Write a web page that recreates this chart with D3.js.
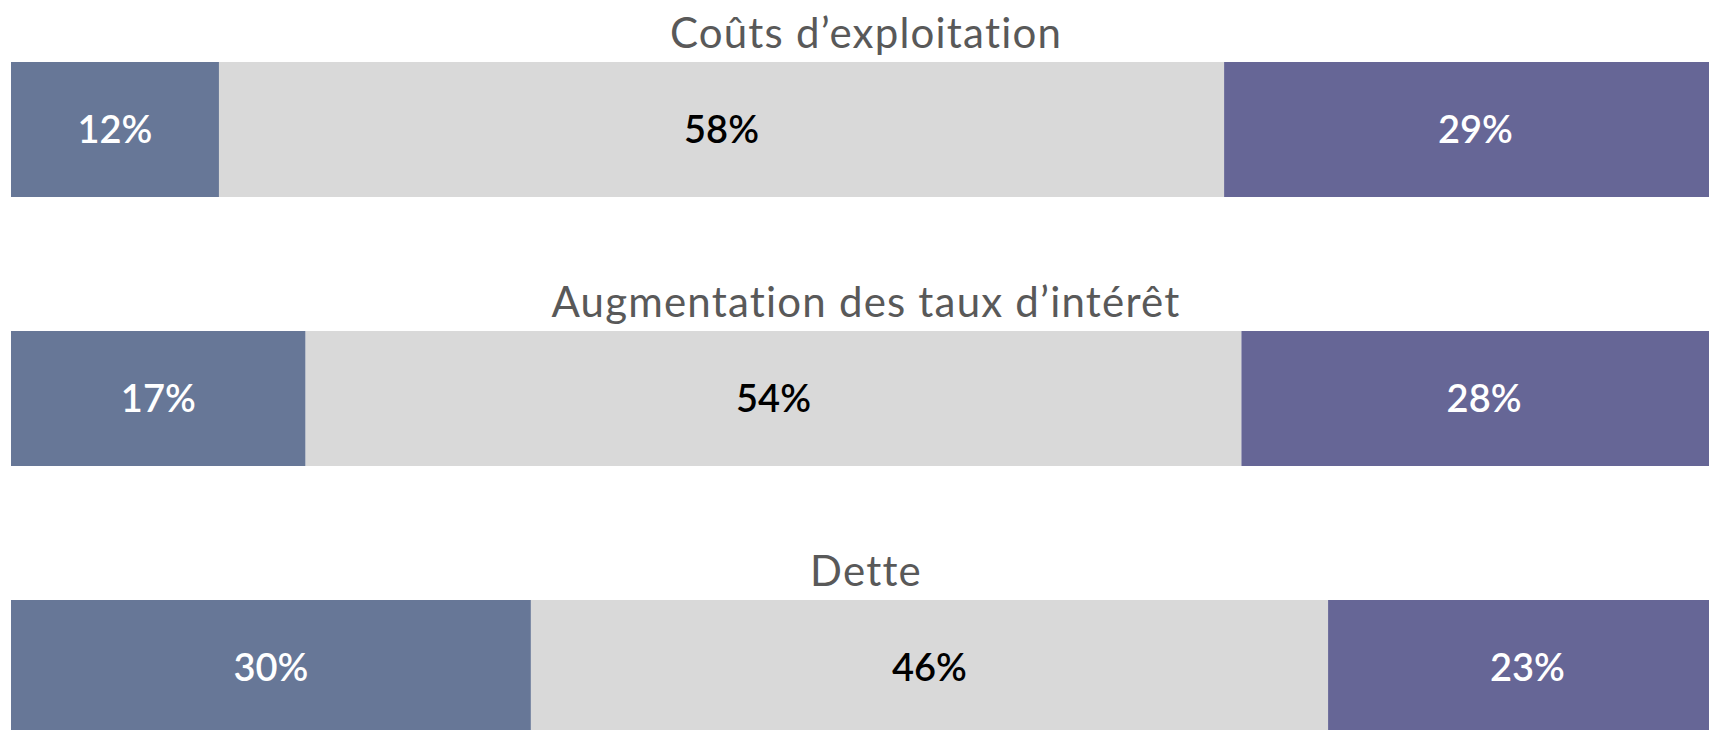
<!DOCTYPE html>
<html>
<head>
<meta charset="utf-8">
<script src="https://cdn.jsdelivr.net/npm/d3@7/dist/d3.min.js"></script>
<style>
  html, body { margin: 0; padding: 0; background: #fff; overflow: hidden; }
  #chart { width: 1709px; height: 730px; }
  text { font-family: Lato, "Open Sans", sans-serif; font-variant-ligatures: none; }
</style>
</head>
<body>
<div id="chart"></div>
<script>
// categories (one stacked bar each) and the three segment series
const categories = ["Coûts d’exploitation", "Augmentation des taux d’intérêt", "Dette"];
const seriesLeft = [12, 17, 30];
const seriesMiddle = [58, 54, 46];
const seriesRight = [29, 28, 23];

const seriesKeys = ["left", "middle", "right"];
const colors = { left: "#677797", middle: "#d9d9d9", right: "#666696" };
const labelColors = { left: "#ffffff", middle: "#000000", right: "#ffffff" };

const width = 1709, height = 730;
const margin = { top: 62, left: 11 };
const step = 269, barH = 135;

const rows = categories.map((c, i) => ({
  category: c,
  left: seriesLeft[i],
  middle: seriesMiddle[i],
  right: seriesRight[i]
}));

const svg = d3.select("#chart").append("svg")
  .attr("width", width)
  .attr("height", height);

// the plot is wider than the window: the right segment gets cut off
const x = d3.scaleLinear()
  .domain([0, 100])
  .range([margin.left, margin.left + 1733]);

const y = d3.scaleBand()
  .domain(categories)
  .range([margin.top, margin.top + step * (categories.length - 1) + barH])
  .paddingInner((step - barH) / step)
  .paddingOuter(0);

const stacked = d3.stack().keys(seriesKeys)(rows);

const layers = svg.selectAll(".layer")
  .data(stacked)
  .enter()
  .append("g")
  .attr("class", "layer")
  .attr("fill", d => colors[d.key]);

layers.selectAll("rect")
  .data(d => d)
  .enter()
  .append("rect")
  .attr("x", d => x(d[0]))
  .attr("y", d => y(d.data.category))
  .attr("width", d => x(d[1]) - x(d[0]))
  .attr("height", y.bandwidth());

layers.selectAll("text")
  .data(d => d.map(v => ({ v, key: d.key })))
  .enter()
  .append("text")
  .attr("x", d => (x(d.v[0]) + x(d.v[1])) / 2)
  .attr("y", d => y(d.v.data.category) + y.bandwidth() / 2)
  .attr("dy", "0.35em")
  .attr("text-anchor", "middle")
  .style("font-size", "38px")
  .style("font-weight", 600)
  .style("fill", d => labelColors[d.key])
  .text(d => (d.v[1] - d.v[0]) + "%");

// category titles above each bar
svg.selectAll(".title")
  .data(categories)
  .enter()
  .append("text")
  .attr("class", "title")
  .attr("x", 866)
  .attr("y", d => y(d) - 14)
  .attr("text-anchor", "middle")
  .style("font-size", "42px")
  .style("letter-spacing", "1.2px")
  .style("fill", "#595959")
  .text(d => d);
</script>
</body>
</html>
